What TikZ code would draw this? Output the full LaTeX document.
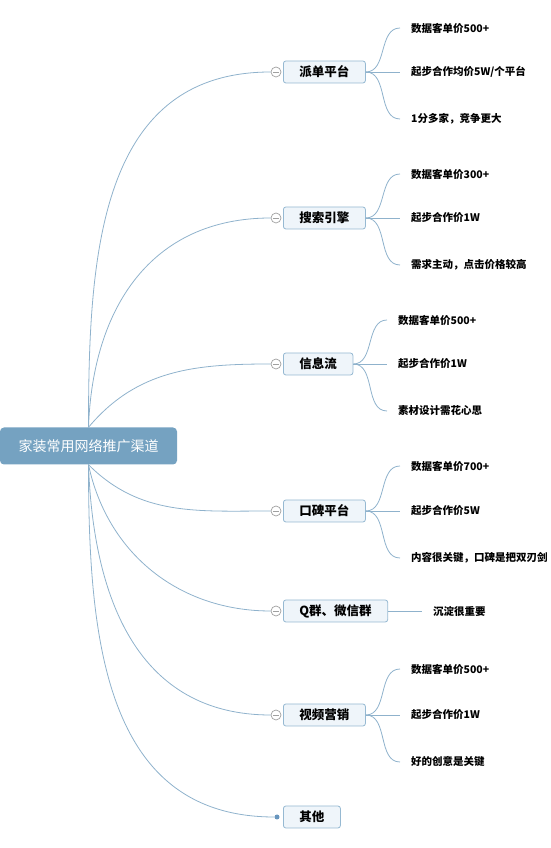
\documentclass[tikz,border=0pt]{standalone}
\usepackage{fontspec}
\setmainfont{Noto Sans CJK SC}
\usetikzlibrary{positioning}
\definecolor{rootblue}{RGB}{117,162,193}
\definecolor{boxline}{RGB}{150,185,210}
\definecolor{boxfill}{RGB}{239,245,250}
\definecolor{linkblue}{RGB}{143,178,204}
\definecolor{foldgray}{RGB}{160,160,160}
\definecolor{dotblue}{RGB}{104,150,190}

\begin{document}
\begin{tikzpicture}[x=1pt, y=1pt,
  root/.style={fill=rootblue, rounded corners=4pt, text=white,
    font=\fontsize{14}{16}\selectfont, minimum width=177pt,
    minimum height=37pt, inner sep=0pt},
  topic/.style={draw=boxline, fill=boxfill, rounded corners=2.5pt,
    line width=0.8pt, font=\bfseries\fontsize{12.5}{14}\selectfont,
    minimum height=22pt, inner xsep=16pt, inner ysep=0pt, anchor=west},
  leaf/.style={font=\bfseries\fontsize{10.5}{12}\selectfont,
    anchor=west, inner xsep=11pt, inner ysep=2pt},
  fold/.style={circle, draw=foldgray, fill=white, inner sep=0pt,
    minimum size=10pt, line width=0.7pt,
    path picture={\draw[foldgray, line width=0.7pt]
      ([xshift=-3pt]path picture bounding box.center) --
      ([xshift=3pt]path picture bounding box.center);}},
  link/.style={draw=linkblue, line width=0.8pt}
]
  \useasboundingbox (0,0) rectangle (550,848);

  \node[root] (root) at (88.5,402) {家装常用网络推广渠道};

  % branches
  \node[topic] (pd) at (283,776) {派单平台};
  \node[topic] (ss) at (283,630) {搜索引擎};
  \node[topic] (xx) at (283,484) {信息流};
  \node[topic] (kb) at (283,337) {口碑平台};
  \node[topic] (qq) at (283,237) {Q群、微信群};
  \node[topic] (sp) at (283,133) {视频营销};
  \node[topic] (qt) at (283,31) {其他};

  \node[fold] (pd-f) at (276,776) {};
  \node[fold] (ss-f) at (276,630) {};
  \node[fold] (xx-f) at (276,484) {};
  \node[fold] (kb-f) at (276,337) {};
  \node[fold] (qq-f) at (276,237) {};
  \node[fold] (sp-f) at (276,133) {};
  \node[circle, fill=dotblue, inner sep=0pt, minimum size=5pt] (qt-d) at (277,31) {};

  \draw[link] (root.north) to[out=90, in=180, looseness=1.1] (pd-f.west);
  \draw[link] (root.north) to[out=88, in=180, looseness=1.1] (ss-f.west);
  \draw[link] (root.north) to[out=50, in=180] (xx-f.west);
  \draw[link] (root.south) to[out=-45, in=180] (kb-f.west);
  \draw[link] (root.south) to[out=-78, in=180] (qq-f.west);
  \draw[link] (root.south) to[out=-88, in=180, looseness=1.1] (sp-f.west);
  \draw[link] (root.south) to[out=-90, in=180, looseness=1.1] (qt-d.west);

  % leaves
  \node[leaf] (pd1) at (400,820) {数据客单价500+};
  \node[leaf] (pd2) at (400,776) {起步合作均价5W/个平台};
  \node[leaf] (pd3) at (400,729) {1分多家，竞争更大};
  \node[leaf] (ss1) at (400,674) {数据客单价300+};
  \node[leaf] (ss2) at (400,630) {起步合作价1W};
  \node[leaf] (ss3) at (400,583) {需求主动，点击价格较高};
  \node[leaf] (xx1) at (387,528) {数据客单价500+};
  \node[leaf] (xx2) at (387,484) {起步合作价1W};
  \node[leaf] (xx3) at (387,437) {素材设计需花心思};
  \node[leaf] (kb1) at (400,382) {数据客单价700+};
  \node[leaf] (kb2) at (400,337) {起步合作价5W};
  \node[leaf] (kb3) at (400,290) {内容很关键，口碑是把双刃剑};
  \node[leaf] (qq1) at (422,237) {沉淀很重要};
  \node[leaf] (sp1) at (400,179) {数据客单价500+};
  \node[leaf] (sp2) at (400,133) {起步合作价1W};
  \node[leaf] (sp3) at (400,86) {好的创意是关键};

  \foreach \b in {pd,ss,xx,kb,sp}{
    \draw[link] (\b.east) to[out=0, in=180] (\b1.west);
    \draw[link] (\b.east) -- (\b2.west);
    \draw[link] (\b.east) to[out=0, in=180] (\b3.west);
  }
  \draw[link] (qq.east) -- (qq1.west);
\end{tikzpicture}
\end{document}
